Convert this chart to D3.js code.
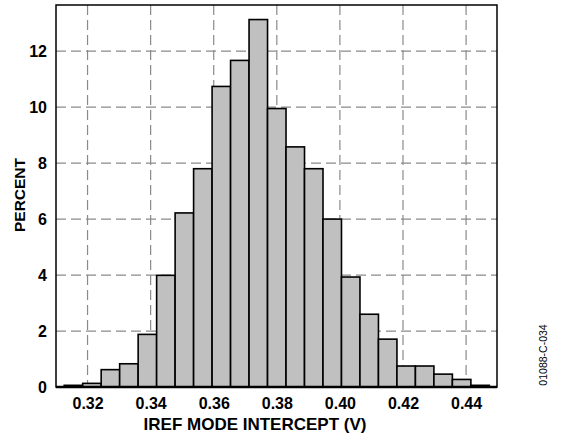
<!DOCTYPE html>
<html lang="en">
<head>
    <meta charset="UTF-8">
    <title>IREF mode intercept histogram</title>
    <style>
        body { margin: 0; background: #fff; }
        text { font-family: "Liberation Sans", Arial, sans-serif; }
    </style>
</head>
<body>
<div id="chart"></div>

<script src="https://d3js.org/d3.v7.min.js"></script>

<script>
    // Histogram data
    var binStart = 0.3126;
    var binWidth = 0.00586;
    var percents = [0.06, 0.13, 0.62, 0.83, 1.88, 3.99, 6.22, 7.80, 10.74, 11.67, 13.13, 9.95,
                    8.58, 7.80, 6.00, 3.93, 2.60, 1.71, 0.75, 0.75, 0.46, 0.27, 0.06];
    var xTicks = [0.32, 0.34, 0.36, 0.38, 0.40, 0.42, 0.44];
    var yTicks = [0, 2, 4, 6, 8, 10, 12];

    var bins = percents.map(function (p, i) {
        return {x0: binStart + i * binWidth, x1: binStart + (i + 1) * binWidth, value: p};
    });

    var width = 565, height = 435;
    var margin = {top: 5, right: 68, bottom: 48, left: 56};
    var w = width - margin.left - margin.right;
    var h = height - margin.top - margin.bottom;

    var svg = d3.select("#chart").append("svg")
        .attr("width", width)
        .attr("height", height);

    var g = svg.append("g")
        .attr("transform", "translate(" + margin.left + "," + margin.top + ")");

    var x = d3.scaleLinear().domain([0.31, 0.4498]).range([0, w]);
    var y = d3.scaleLinear().domain([0, 13.65]).range([h, 0]);

    // dashed grid
    g.selectAll(".vgrid").data(xTicks).enter().append("line")
        .attr("x1", d => x(d)).attr("x2", d => x(d))
        .attr("y1", 0).attr("y2", h)
        .attr("stroke", "#8a8a8a").attr("stroke-width", 1.2)
        .attr("stroke-dasharray", "10,5");
    g.selectAll(".hgrid").data(yTicks.slice(1)).enter().append("line")
        .attr("x1", 0).attr("x2", w)
        .attr("y1", d => y(d)).attr("y2", d => y(d))
        .attr("stroke", "#8a8a8a").attr("stroke-width", 1.2)
        .attr("stroke-dasharray", "10,5");

    // bars
    g.selectAll(".bar").data(bins).enter().append("rect")
        .attr("x", d => x(d.x0))
        .attr("y", d => y(d.value))
        .attr("width", d => x(d.x1) - x(d.x0))
        .attr("height", d => y(0) - y(d.value))
        .attr("fill", "#c0c0c0")
        .attr("stroke", "#000")
        .attr("stroke-width", 1.6);

    // frame
    g.append("rect")
        .attr("x", 0).attr("y", 0).attr("width", w).attr("height", h)
        .attr("fill", "none").attr("stroke", "#000").attr("stroke-width", 1.5);
    g.append("line")
        .attr("x1", 0).attr("x2", w).attr("y1", h).attr("y2", h)
        .attr("stroke", "#000").attr("stroke-width", 2.5);

    // axes (labels only)
    var xAxis = g.append("g")
        .attr("transform", "translate(0," + h + ")")
        .call(d3.axisBottom(x).tickValues(xTicks).tickFormat(d3.format(".2f")).tickSize(0).tickPadding(11));
    var yAxis = g.append("g")
        .call(d3.axisLeft(y).tickValues(yTicks).tickFormat(d3.format("d")).tickSize(0).tickPadding(9));
    [xAxis, yAxis].forEach(function (a) {
        a.select(".domain").remove();
        a.selectAll("text")
            .attr("font-family", "Liberation Sans, Arial, sans-serif")
            .attr("font-size", 16).attr("font-weight", "bold").attr("fill", "#000");
    });

    // titles
    svg.append("text")
        .attr("x", 255).attr("y", 430)
        .attr("text-anchor", "middle")
        .attr("font-size", 17).attr("font-weight", "bold")
        .text("IREF MODE INTERCEPT (V)");
    svg.append("text")
        .attr("transform", "translate(25,195) rotate(-90)")
        .attr("text-anchor", "middle")
        .attr("font-size", 15.5).attr("font-weight", "bold")
        .text("PERCENT");
    svg.append("text")
        .attr("transform", "translate(547,355) rotate(-90)")
        .attr("text-anchor", "middle")
        .attr("font-size", 10.5)
        .text("01088-C-034");
</script>
</body>
</html>
